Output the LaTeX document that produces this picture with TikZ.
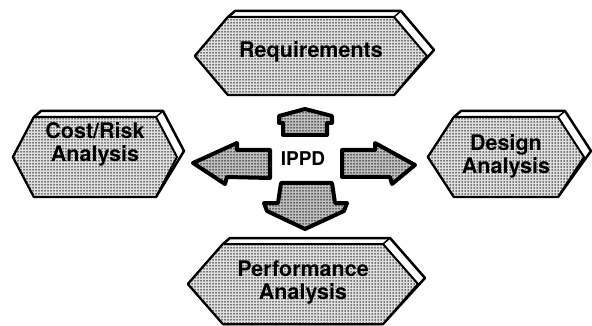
\documentclass[tikz,border=0pt]{standalone}
\usepackage{fontspec}
\setmainfont{TeX Gyre Heros}
\usetikzlibrary{patterns}

\pgfdeclarepatternformonly{halftone}{\pgfqpoint{-1pt}{-1pt}}{\pgfqpoint{1pt}{1pt}}{\pgfqpoint{3pt}{3pt}}{%
  \pgfpathcircle{\pgfqpoint{0pt}{0pt}}{.75pt}%
  \pgfusepath{fill}%
}

% hexagon box: centre x, centre y, tip, half top edge, half height
\newcommand\ipbox[5]{%
  \begin{scope}[shift={(#1,#2)}]
    \filldraw[bevel] (-#3,0) -- (-#4,-#5) -- ++(7,-6) -- (#4+7,-#5-6) -- (#3+7,-6) -- (#4,#5) -- (-#4,#5) -- cycle;
    \filldraw[face] (-#3,0) -- (-#4,-#5) -- (#4,-#5) -- (#3,0) -- (#4,#5) -- (-#4,#5) -- cycle;
    \draw[line width=1.5pt] (#4,-#5) -- ++(7,-6);
  \end{scope}}

\begin{document}
\begin{tikzpicture}[x=1pt,y=-1pt,
  face/.style={draw=black,line width=2pt,line join=round,fill=black!12,postaction={pattern=halftone}},
  bevel/.style={draw=black,line width=2.5pt,line join=round,fill=white},
  blockarrow/.style={draw=black,line width=4pt,line join=round,fill=black!25,postaction={pattern=halftone}},
  txt/.style={align=center,font=\bfseries\fontsize{21.5}{23}\selectfont}]
  \useasboundingbox (0,0) rectangle (592,326);

  \ipbox{311}{56}{116}{83}{39}
  \ipbox{95}{157}{82}{61}{40}
  \ipbox{506}{157}{78}{52}{40}
  \ipbox{303}{284}{115}{80}{40}

  \node[txt] (req) at (311,52) {Requirements};
  \node[txt] (cost) at (95,144) {Cost/Risk\\Analysis};
  \node[txt] (design) at (506,156) {Design\\Analysis};
  \node[txt] (perf) at (303,283) {Performance\\Analysis};
  \node[txt,font=\bfseries\fontsize{19}{20}\selectfont] (ippd) at (303,159) {IPPD};

  % arrows out of IPPD
  \filldraw[blockarrow] (305,109) -- (332,116) -- (332,123) -- (327,123) -- (327,135) -- (283,135) -- (283,123) -- (279,123) -- (279,116) -- cycle;
  \filldraw[blockarrow] (193,163) -- (237,143) -- (237,150) -- (270,150) -- (270,178) -- (227,177) -- (225,184) -- cycle;
  \filldraw[blockarrow] (342,150) -- (375,150) -- (375,143) -- (415,165) -- (392,184) -- (390,177) -- (342,177) -- cycle;
  \filldraw[blockarrow] (281,183) -- (332,183) -- (335,203) -- (347,203) -- (344,211) -- (305,229) -- (267,211) -- (264,203) -- (278,203) -- cycle;
\end{tikzpicture}
\end{document}
